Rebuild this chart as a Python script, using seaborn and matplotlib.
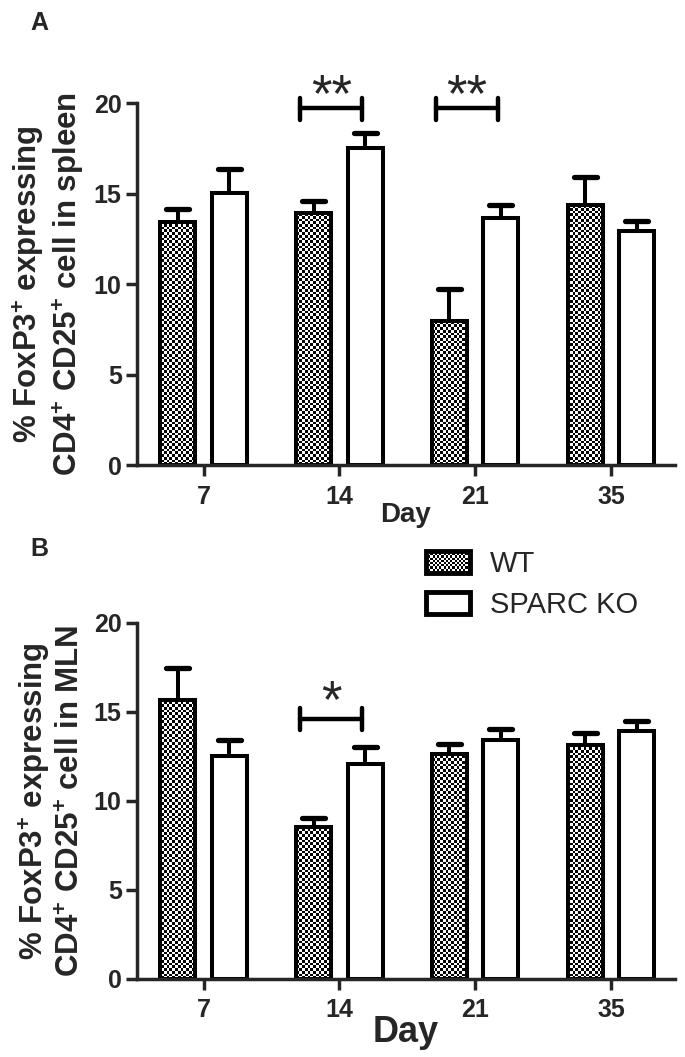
import numpy as np
import pandas as pd
import matplotlib
matplotlib.use("Agg")
import matplotlib.pyplot as plt
from matplotlib.patches import Rectangle
from matplotlib.legend_handler import HandlerBase
import seaborn as sns

days = ["7", "14", "21", "35"]
groups = ["WT", "SPARC KO"]

# panel A: spleen
spleen_wt = [13.45, 13.95, 7.95, 14.35]
spleen_wt_sem = [0.72, 0.62, 1.8, 1.55]
spleen_ko = [15.05, 17.5, 13.65, 12.95]
spleen_ko_sem = [1.28, 0.85, 0.7, 0.55]
spleen_sig = [(1, "**"), (2, "**")]

# panel B: MLN
mln_wt = [15.65, 8.55, 12.65, 13.15]
mln_wt_sem = [1.8, 0.48, 0.58, 0.68]
mln_ko = [12.5, 12.1, 13.4, 13.95]
mln_ko_sem = [0.92, 0.95, 0.62, 0.52]
mln_sig = [(1, "*")]

sns.set_style("ticks")
plt.rcParams["font.family"] = ["Liberation Sans", "DejaVu Sans"]
plt.rcParams["mathtext.fontset"] = "custom"
plt.rcParams["mathtext.rm"] = "Liberation Sans:bold"
plt.rcParams["mathtext.bf"] = "Liberation Sans:bold"
plt.rcParams["axes.linewidth"] = 2.5

NARROW = ["Liberation Sans Narrow", "Liberation Sans", "DejaVu Sans"]
LW = 2.9
CELL_PX = 2.7


class HandlerChecker(HandlerBase):
    def create_artists(self, legend, orig_handle, xdescent, ydescent,
                       width, height, fontsize, trans):
        arts = []
        cell = CELL_PX * 72 / 100 * 0.8
        nx, ny = int(width / cell), int(height / cell)
        cw, ch = width / nx, height / ny
        for i in range(nx):
            for j in range(ny):
                if (i + j) % 2 == 0:
                    arts.append(Rectangle((-xdescent + i * cw, -ydescent + j * ch), cw, ch,
                                          facecolor="black", edgecolor="none", transform=trans))
        arts.append(Rectangle((-xdescent, -ydescent), width, height, facecolor="none",
                              edgecolor="black", linewidth=3.5, transform=trans))
        return arts


def draw_panel(ax, wt, wt_sem, ko, ko_sem, sig, bracket, star_y, ylabel, day_size):
    df = pd.DataFrame({
        "day": days * 2,
        "group": [groups[0]] * 4 + [groups[1]] * 4,
        "value": wt + ko,
    })
    sns.barplot(data=df, x="day", y="value", hue="group", order=days, hue_order=groups,
                palette=["white", "white"], edgecolor="black", linewidth=LW,
                width=0.76, gap=0.32, errorbar=None, legend=False, ax=ax)
    ax.set_xlim(-0.49, 3.47)
    ax.set_ylim(0, 20)

    bars = sorted(ax.patches, key=lambda p: p.get_x())
    sems = []
    for w, k in zip(wt_sem, ko_sem):
        sems += [w, k]

    # checkerboard texture for WT bars
    pos = ax.get_position()
    fig = ax.figure
    wpx = pos.width * fig.get_figwidth() * fig.dpi
    hpx = pos.height * fig.get_figheight() * fig.dpi
    nc, nr = int(wpx / CELL_PX), int(hpx / CELL_PX)
    checker = np.add.outer(np.arange(nr), np.arange(nc)) % 2
    x0, x1 = ax.get_xlim()
    for i, p in enumerate(bars):
        p.set_zorder(2)
        if i % 2 == 0:
            p.set_facecolor("none")
            im = ax.imshow(checker, cmap="gray_r", extent=(x0, x1, 0, 20), aspect="auto",
                           interpolation="nearest", zorder=1)
            im.set_clip_path(p)
        xc = p.get_x() + p.get_width() / 2
        top = p.get_height()
        hi = top + sems[i]
        ax.plot([xc, xc], [top, hi], color="black", lw=LW, zorder=3)
        ax.plot([xc - 0.085, xc + 0.085], [hi, hi], color="black", lw=3.8,
                solid_capstyle="round", zorder=3)
    ax.set_xlim(x0, x1)
    ax.set_ylim(0, 20)

    yb, ylo, yhi = bracket
    for d, stars in sig:
        a, b = d - 0.29, d + 0.17
        kw = dict(color="black", lw=3.2, solid_capstyle="round", clip_on=False, zorder=4)
        ax.plot([a, b], [yb, yb], **kw)
        ax.plot([a, a], [ylo, yhi], **kw)
        ax.plot([b, b], [ylo, yhi], **kw)
        ax.text((a + b) / 2, star_y, stars, ha="center", va="baseline", fontsize=38,
                family=["Liberation Sans"], clip_on=False)

    ax.set_yticks([0, 5, 10, 15, 20])
    ax.set_xticks(range(4))
    ax.set_xticklabels(days)
    for lab in ax.get_xticklabels() + ax.get_yticklabels():
        lab.set_fontfamily(NARROW)
        lab.set_fontweight("bold")
        lab.set_fontsize(18)
    ax.tick_params(axis="both", length=8, width=2.5, pad=3)
    ax.tick_params(axis="x", pad=6)
    sns.despine(ax=ax)
    ax.set_xlabel("Day", fontsize=day_size, fontweight="bold", fontfamily=NARROW, labelpad=-5)
    ax.set_ylabel(ylabel, fontsize=22.5, fontweight="bold", labelpad=5, linespacing=1.15)


fig = plt.figure(figsize=(6.85, 10.57), dpi=100)
ax_a = fig.add_axes([0.2, 0.560, 0.785, 0.3425])
ax_b = fig.add_axes([0.2, 0.0738, 0.785, 0.3368])

draw_panel(ax_a, spleen_wt, spleen_wt_sem, spleen_ko, spleen_ko_sem, spleen_sig,
           (19.72, 19.08, 20.3), 19.55,
           "% FoxP3$^{+}$ expressing\nCD4$^{+}$ CD25$^{+}$ cell in spleen", 20)
draw_panel(ax_b, mln_wt, mln_wt_sem, mln_ko, mln_ko_sem, mln_sig,
           (14.6, 14.0, 15.2), 14.7,
           "% FoxP3$^{+}$ expressing\nCD4$^{+}$ CD25$^{+}$ cell in MLN", 26)

fig.text(0.045, 0.978, "A", fontsize=18, fontweight="bold", va="center")
fig.text(0.045, 0.481, "B", fontsize=18, fontweight="bold", va="center")

handles = [Rectangle((0, 0), 1, 1), Rectangle((0, 0), 1, 1, facecolor="white",
                                             edgecolor="black", linewidth=3.5)]
fig.legend(handles, groups, loc="upper left", bbox_to_anchor=(0.622, 0.4795),
           frameon=False, fontsize=21, borderpad=0, borderaxespad=0,
           handlelength=1.5, handleheight=0.8, handletextpad=0.7, labelspacing=0.45,
           handler_map={handles[0]: HandlerChecker()})

fig.savefig("out.png", dpi=100)
